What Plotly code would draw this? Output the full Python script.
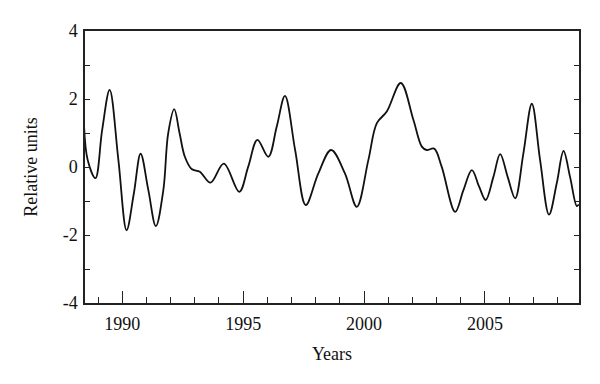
import plotly.graph_objects as go

years = [1988.42, 1988.57, 1988.89, 1989.17, 1989.48, 1989.84, 1990.18, 1990.48, 1990.76,
         1991.08, 1991.39, 1991.70, 1991.90, 1992.15, 1992.37, 1992.59, 1992.87, 1993.21,
         1993.65, 1994.20,
         1994.84, 1995.21, 1995.59, 1996.04, 1996.39, 1996.73, 1997.15, 1997.59, 1998.11,
         1998.64, 1999.21, 1999.70, 2000.18, 2000.53, 2000.94, 2001.52, 2002.04, 2002.39,
         2002.59, 2002.90, 2003.21, 2003.77, 2004.11, 2004.46, 2004.76, 2005.03, 2005.35,
         2005.63, 2005.94, 2006.25, 2006.59, 2006.94, 2007.28, 2007.65, 2007.97, 2008.25,
         2008.52, 2008.80, 2008.88]
values = [1.22, 0.21, -0.33, 1.09, 2.27, 0.21, -1.86, -0.78, 0.39,
          -0.68, -1.74, -0.68, 0.99, 1.70, 1.00, 0.30, -0.06, -0.14,
          -0.46, 0.10,
          -0.73, 0.01, 0.80, 0.30, 1.19, 2.09, 0.50, -1.12, -0.19,
          0.50, -0.19, -1.17, 0.21, 1.29, 1.63, 2.47, 1.39, 0.60,
          0.50, 0.54, 0.01, -1.32, -0.68, -0.09, -0.58, -0.97, -0.29,
          0.38, -0.29, -0.92, 0.40, 1.86, 0.21, -1.40, -0.48, 0.47,
          -0.29, -1.15, -1.10]

x_ticks = [1990, 1995, 2000, 2005]
y_ticks = [-4, -3, -2, -1, 0, 1, 2, 3, 4]
y_ticktext = ["-4", "", "-2", "", "0", "", "2", "", "4"]

font = "Liberation Serif, Times New Roman, serif"

fig = go.Figure()
fig.add_trace(go.Scatter(
    x=years, y=values, mode="lines",
    line=dict(color="#111111", width=1.8, shape="spline", smoothing=1.0),
    showlegend=False, hoverinfo="skip"))

fig.update_layout(
    width=600, height=384,
    margin=dict(l=77, r=29, t=23, b=89),
    paper_bgcolor="white", plot_bgcolor="white",
    font=dict(family=font, size=18, color="#111111"),
    xaxis=dict(
        range=[1988.46, 2008.89], tickvals=x_ticks, ticks="inside", ticklen=12,
        tickwidth=1.3, tickcolor="#222222", ticklabelstandoff=4,
        showline=True, linecolor="#222222", linewidth=1.5, mirror=True,
        showgrid=False, zeroline=False,
        minor=dict(dtick=1, tick0=1990, ticks="inside", ticklen=6, tickwidth=1.2,
                   tickcolor="#222222", showgrid=False),
        title=dict(text="Years", standoff=14, font=dict(size=18)),
        tickfont=dict(size=18),
    ),
    yaxis=dict(
        range=[-4, 4], tickvals=y_ticks, ticktext=y_ticktext, ticks="inside", ticklen=5,
        tickwidth=1.2, tickcolor="#222222", ticklabelstandoff=2,
        showline=True, linecolor="#222222", linewidth=1.5, mirror="ticks",
        showgrid=False, zeroline=False,
        title=dict(text="Relative units", standoff=20, font=dict(size=18)),
        tickfont=dict(size=18),
    ),
)

fig.write_html("out.html")
